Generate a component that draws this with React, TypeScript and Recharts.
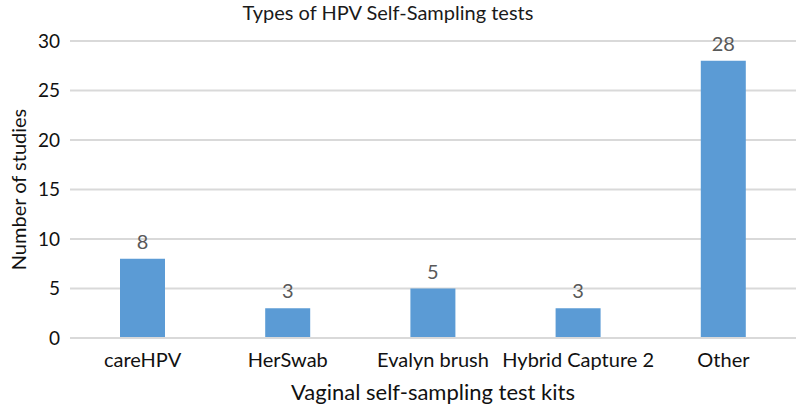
import { BarChart, Bar, XAxis, YAxis, CartesianGrid, LabelList, Label } from 'recharts';

const kits = ['careHPV', 'HerSwab', 'Evalyn brush', 'Hybrid Capture 2', 'Other'];
const studies = [8, 3, 5, 3, 28];
const yTicks = [0, 5, 10, 15, 20, 25, 30];

const data = kits.map((name, i) => ({ name, studies: studies[i] }));

const FONT = 'Lato, "Open Sans", sans-serif';

export default function App() {
  return (
    <div style={{ position: 'absolute', left: 0, top: 0, width: 796, height: 405, background: '#fff', fontFamily: FONT }}>
      <div
        style={{
          position: 'absolute',
          top: 0,
          left: 0,
          width: 776,
          textAlign: 'center',
          fontSize: 20,
          lineHeight: '24px',
          color: '#1a1a1a',
        }}
      >
        Types of HPV Self-Sampling tests
      </div>
      <BarChart width={796} height={405} data={data} margin={{ top: 41, right: 0, bottom: 0, left: 0 }}>
        <CartesianGrid vertical={false} stroke="#d9d9d9" strokeWidth={2} />
        <XAxis
          dataKey="name"
          tickLine={false}
          axisLine={{ stroke: '#d9d9d9', strokeWidth: 2 }}
          tick={{ fill: '#111', fontSize: 20, fontFamily: FONT }}
          tickMargin={9}
          interval={0}
          height={67}
        >
          <Label value="Vaginal self-sampling test kits" position="insideBottom" offset={5} style={{ fill: '#111', fontSize: 22, fontFamily: FONT }} />
        </XAxis>
        <YAxis
          domain={[0, 30]}
          ticks={yTicks}
          tickLine={false}
          axisLine={false}
          tick={{ fill: '#111', fontSize: 19, fontFamily: FONT }}
          tickMargin={4}
          width={70}
        >
          <Label value="Number of studies" angle={-90} position="insideLeft" offset={19} style={{ textAnchor: 'middle', fill: '#111', fontSize: 20, fontFamily: FONT }} />
        </YAxis>
        <Bar dataKey="studies" fill="#5b9bd5" barSize={45} isAnimationActive={false}>
          <LabelList dataKey="studies" position="top" offset={10} style={{ fill: '#595959', fontSize: 20, fontFamily: FONT }} />
        </Bar>
      </BarChart>
    </div>
  );
}
